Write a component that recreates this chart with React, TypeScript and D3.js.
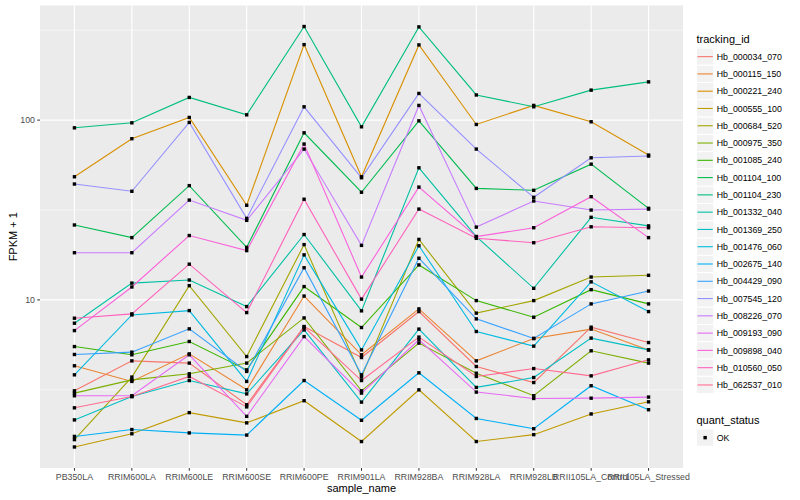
import * as d3 from "d3";

// sample names on the x axis
const samples = [
  "PB350LA", "RRIM600LA", "RRIM600LE", "RRIM600SE", "RRIM600PE", "RRIM901LA",
  "RRIM928BA", "RRIM928LA", "RRIM928LB", "RRII105LA_Control", "RRII105LA_Stressed",
];

const trackingIds = [
  "Hb_000034_070", "Hb_000115_150", "Hb_000221_240", "Hb_000555_100", "Hb_000684_520",
  "Hb_000975_350", "Hb_001085_240", "Hb_001104_100", "Hb_001104_230", "Hb_001332_040",
  "Hb_001369_250", "Hb_001476_060", "Hb_002675_140", "Hb_004429_090", "Hb_007545_120",
  "Hb_008226_070", "Hb_009193_090", "Hb_009898_040", "Hb_010560_050", "Hb_062537_010",
];

// FPKM + 1 per sample, one array per gene
const hb000034_070 = [3.12, 4.58, 4.45, 2.61, 7.11, 4.78, 8.61, 4.26, 3.47, 7.05, 5.79];
const hb000115_150 = [4.3, 3.52, 5.01, 3.16, 10.5, 4.95, 8.91, 4.58, 6.1, 6.88, 5.27];
const hb000221_240 = [48.4, 78.8, 103.5, 33.6, 263, 48.4, 262, 94.6, 120.7, 97.9, 63.9];
const hb000555_100 = [1.52, 1.8, 2.36, 2.07, 2.75, 1.63, 3.16, 1.63, 1.78, 2.32, 2.71];
const hb000684_520 = [1.67, 3.72, 12.0, 4.84, 20.3, 3.72, 21.7, 8.44, 9.91, 13.4, 13.7];
const hb000975_350 = [3.03, 3.59, 3.88, 4.45, 7.94, 3.12, 5.75, 3.91, 2.93, 5.21, 4.45];
const hb001085_240 = [5.5, 4.95, 5.87, 4.08, 11.86, 7.02, 15.65, 9.91, 8.01, 11.4, 9.5];
const hb001104_100 = [26.1, 22.2, 43.2, 19.6, 85, 39.7, 99.1, 41.7, 40.7, 56.9, 32.3];
const hb001104_230 = [90.6, 96.6, 133.7, 107, 331.6, 91.8, 330, 138, 118.6, 146.8, 163.2];
const hb001332_040 = [7.42, 12.4, 12.9, 9.18, 23.1, 8.69, 54.3, 22.5, 11.6, 28.8, 25.8];
const hb001369_250 = [2.15, 2.9, 3.56, 3.0, 6.81, 2.7, 6.88, 3.26, 3.7, 6.13, 5.27];
const hb001476_060 = [3.83, 8.25, 8.72, 3.52, 17.8, 5.27, 20.0, 6.67, 5.53, 12.6, 8.61];
const hb002675_140 = [1.74, 1.9, 1.82, 1.77, 3.56, 2.14, 3.93, 2.19, 1.92, 3.33, 2.45];
const hb004429_090 = [4.97, 5.12, 6.9, 4.0, 15.1, 3.83, 17.05, 7.84, 6.1, 9.5, 11.2];
const hb007545_120 = [44.1, 40.2, 97.1, 28.4, 118.6, 47.8, 140.7, 69, 37.2, 61.7, 63.1];
const hb008226_070 = [18.3, 18.3, 35.9, 27.7, 69, 20.1, 120.7, 25.4, 35.5, 31.6, 32];
const hb009193_090 = [2.93, 2.93, 4.95, 2.25, 6.25, 3.03, 6.0, 3.07, 2.83, 2.84, 2.88];
const hb009898_040 = [6.75, 11.8, 22.8, 18.8, 73.6, 13.4, 42.4, 22.5, 25.2, 37.5, 22.2];
const hb010560_050 = [7.91, 8.36, 15.8, 8.5, 36.3, 10.1, 32, 22, 20.8, 25.5, 25.2];
const hb062537_010 = [2.51, 2.9, 3.75, 2.54, 7.05, 3.56, 6.21, 3.75, 4.15, 3.78, 4.64];

const seriesValues = [
  hb000034_070, hb000115_150, hb000221_240, hb000555_100, hb000684_520,
  hb000975_350, hb001085_240, hb001104_100, hb001104_230, hb001332_040,
  hb001369_250, hb001476_060, hb002675_140, hb004429_090, hb007545_120,
  hb008226_070, hb009193_090, hb009898_040, hb010560_050, hb062537_010,
];

const quantStatus = ["OK"];

// ggplot default hue palette for 20 groups
const palette = [
  "#F8766D", "#EA8331", "#D89000", "#C09B00", "#A3A500", "#7CAE00", "#39B600",
  "#00BB4E", "#00BF7D", "#00C1A3", "#00BFC4", "#00BAE0", "#00B0F6", "#35A2FF",
  "#9590FF", "#C77CFF", "#E76BF3", "#FA62DB", "#FF62BC", "#FF6C91",
];

const font = "'Liberation Sans', Arial, Helvetica, sans-serif";

export default function App() {
  const width = 800;
  const height = 500;
  const panel = { left: 40, right: 683, top: 5.5, bottom: 468 };

  const x = d3.scalePoint<string>()
    .domain(samples)
    .range([panel.left, panel.right])
    .padding(0.6);

  // log scale with ggplot's 5% expansion in transformed space
  const all = seriesValues.flat();
  const lo = Math.log10(d3.min(all)!);
  const hi = Math.log10(d3.max(all)!);
  const pad = (hi - lo) * 0.05;
  const y = d3.scaleLog()
    .domain([10 ** (lo - pad), 10 ** (hi + pad)])
    .range([panel.bottom, panel.top]);

  const [d0, d1] = y.domain();
  const majorTicks = [1, 10, 100, 1000].filter(v => v >= d0 && v <= d1);
  const minorTicks = [1, 10, 100].map(v => v * Math.sqrt(10)).filter(v => v >= d0 && v <= d1);

  const line = d3.line<number>()
    .x((_, i) => x(samples[i])!)
    .y(d => y(d));

  const legendX = 696.5;
  const keySize = 17.28;
  const keyTop = 48;
  const qsTop = 429;

  return (
    <svg width={width} height={height} style={{ position: "absolute", left: 0, top: 0 }} fontFamily={font}>
      <rect x={0} y={0} width={width} height={height} fill="#fff" />

      {/* panel */}
      <rect x={panel.left} y={panel.top} width={panel.right - panel.left} height={panel.bottom - panel.top} fill="#EBEBEB" />
      {minorTicks.map(v => (
        <line key={"mn" + v} x1={panel.left} x2={panel.right} y1={y(v)} y2={y(v)} stroke="#fff" strokeWidth={0.55} />
      ))}
      {majorTicks.map(v => (
        <line key={"mj" + v} x1={panel.left} x2={panel.right} y1={y(v)} y2={y(v)} stroke="#fff" strokeWidth={1.1} />
      ))}
      {samples.map(s => (
        <line key={"vx" + s} x1={x(s)} x2={x(s)} y1={panel.top} y2={panel.bottom} stroke="#fff" strokeWidth={1.1} />
      ))}

      {/* lines */}
      {seriesValues.map((vals, i) => (
        <path key={trackingIds[i]} d={line(vals)!} fill="none" stroke={palette[i]} strokeWidth={1.1} />
      ))}
      {/* points */}
      {seriesValues.map((vals, i) =>
        vals.map((v, j) => (
          <rect key={trackingIds[i] + j} x={x(samples[j])! - 1.7} y={y(v) - 1.7} width={3.4} height={3.4} fill="#000" />
        ))
      )}

      {/* y axis */}
      {majorTicks.map(v => (
        <g key={"yt" + v}>
          <line x1={panel.left - 2.75} x2={panel.left} y1={y(v)} y2={y(v)} stroke="#333" strokeWidth={1} />
          <text x={panel.left - 5} y={y(v) + 3} textAnchor="end" fontSize={8.8} fill="#4D4D4D">{v}</text>
        </g>
      ))}
      <text transform={`translate(16.5,${(panel.top + panel.bottom) / 2}) rotate(-90)`} textAnchor="middle" fontSize={11} fill="#000">FPKM + 1</text>

      {/* x axis */}
      {samples.map(s => (
        <g key={"xt" + s}>
          <line x1={x(s)} x2={x(s)} y1={panel.bottom} y2={panel.bottom + 2.75} stroke="#333" strokeWidth={1} />
          <text x={x(s)} y={panel.bottom + 12} textAnchor="middle" fontSize={8.8} fill="#4D4D4D">{s}</text>
        </g>
      ))}
      <text x={(panel.left + panel.right) / 2} y={492} textAnchor="middle" fontSize={11} fill="#000">sample_name</text>

      {/* legend: tracking_id */}
      <text x={legendX} y={43} fontSize={11} fill="#000">tracking_id</text>
      {trackingIds.map((id, i) => {
        const ky = keyTop + i * keySize;
        return (
          <g key={"lg" + id}>
            <rect x={legendX} y={ky} width={keySize} height={keySize} fill="#F2F2F2" stroke="#fff" strokeWidth={1} />
            <line x1={legendX + 1} x2={legendX + keySize - 1} y1={ky + keySize / 2} y2={ky + keySize / 2} stroke={palette[i]} strokeWidth={1.1} />
            <text x={legendX + keySize + 3} y={ky + keySize / 2 + 3.1} fontSize={8.8} fill="#000">{id}</text>
          </g>
        );
      })}

      {/* legend: quant_status */}
      <text x={legendX} y={424} fontSize={11} fill="#000">quant_status</text>
      {quantStatus.map((q, i) => {
        const ky = qsTop + i * keySize;
        return (
          <g key={"qs" + q}>
            <rect x={legendX} y={ky} width={keySize} height={keySize} fill="#F2F2F2" stroke="#fff" strokeWidth={1} />
            <rect x={legendX + keySize / 2 - 1.7} y={ky + keySize / 2 - 1.7} width={3.4} height={3.4} fill="#000" />
            <text x={legendX + keySize + 3} y={ky + keySize / 2 + 3.1} fontSize={8.8} fill="#000">{q}</text>
          </g>
        );
      })}
    </svg>
  );
}
